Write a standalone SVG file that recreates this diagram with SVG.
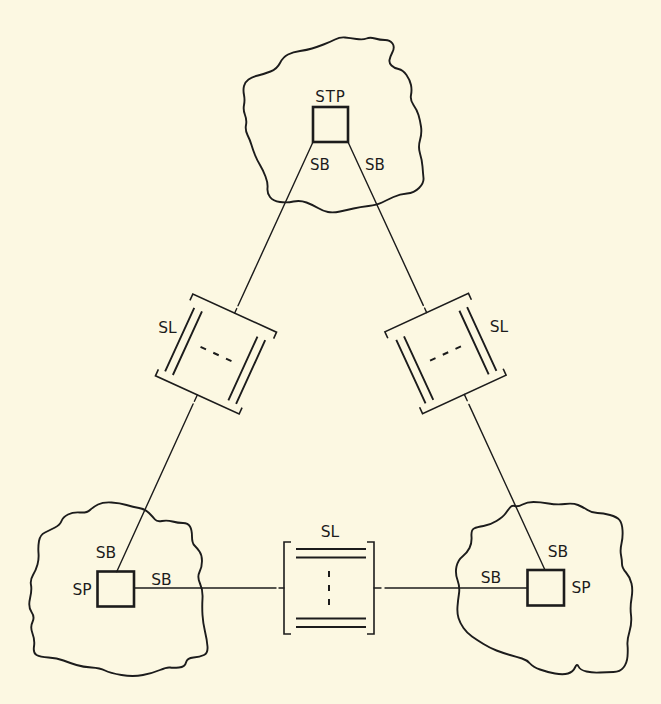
<svg xmlns="http://www.w3.org/2000/svg" xmlns:xlink="http://www.w3.org/1999/xlink" width="661" height="704" viewBox="0 0 661 704">
<defs>
<style>
.bg{fill:#fcf8e2}
.ln{stroke:#1c1c1c;stroke-width:1.4;fill:none;stroke-linecap:round}
.cloud{stroke:#1c1c1c;stroke-width:1.9;fill:none;stroke-linejoin:round}
.box{stroke:#1c1c1c;stroke-width:2.6;fill:none}
.br{stroke:#1c1c1c;stroke-width:1.6;fill:none;stroke-linejoin:miter}
.in{stroke:#1c1c1c;stroke-width:1.9;fill:none}
.dot{stroke:#1c1c1c;stroke-width:2;fill:none}
text{font-family:"DejaVu Sans","Liberation Sans",sans-serif;fill:#1c1c1c;text-anchor:middle}
.t1{font-size:15px}
.t2{font-size:15.5px}
</style>
<g id="bundle">
<path class="br" d="M-38,-46 H-45 V46 H-38"/>
<path class="br" d="M38,-46 H45 V46 H38"/>
<path class="in" d="M-33,-39 H37 M-33,-30.5 H37 M-33,30.5 H37 M-33,39 H37"/>
<path class="dot" d="M0,-17 V-11 M0,-3 V3 M0,11 V17"/>
<path class="ln" d="M-50,0 H-45 M45,0 H52"/>
</g>
</defs>
<rect class="bg" x="0" y="0" width="661" height="704"/>

<g id="connectors">
<path class="ln" d="M313,142 L238,305.8"/>
<path class="ln" d="M193.1,404 L116.7,571.7"/>
<path class="ln" d="M348,142 L423.3,305.4"/>
<path class="ln" d="M468.9,404.4 L545,570"/>
<path class="ln" d="M134,588 H276"/>
<path class="ln" d="M385,588 H527.5"/>
</g>

<g id="stp-network">
<path class="cloud" d="M244,86 Q245,82 248.5,79.5 Q252,77 258,75.5 Q264,74 270.5,71.5 Q277,69 280,63 Q283,57 288,54.5 Q293,52 300,51 Q307,50 312,48.5 Q317,47 323.5,44.5 Q330,42 335,39.5 Q340,37 345,37.5 Q350,38 356.5,39 Q363,40 366.5,38.5 Q370,37 375,38.5 Q380,40 385,40 Q390,40 392.5,43.5 Q395,47 392.5,52 Q390,57 389.5,60 Q389,63 391.5,65.5 Q394,68 398.5,69 Q403,70 406.5,75 Q410,80 411,85 Q412,90 411,95 Q410,100 413.5,105 Q417,110 418.5,115 Q420,120 421,126.5 Q422,133 420,140 Q418,147 420,153.5 Q422,160 422.5,166.5 Q423,173 423.5,178 Q424,183 419,188 Q414,193 407,193.5 Q400,194 393.5,197 Q387,200 382,202.5 Q377,205 368.5,206 Q360,207 353.5,208.5 Q347,210 340,211.5 Q333,213 328,212 Q323,211 318,208 Q313,205 306.5,202.5 Q300,200 293.5,201.5 Q287,203 280,202 Q273,201 270,197 Q267,193 267.5,188 Q268,183 265.5,176.5 Q263,170 260,165 Q257,160 255,155 Q253,150 251.5,145 Q250,140 247.5,135 Q245,130 246,125 Q247,120 245,115 Q243,110 244,105 Q245,100 244,95 Q243,90 244,86 Z"/>
</g>

<g id="stp">
<rect class="box" x="313" y="107" width="35" height="35"/>
<text class="t1" x="330.5" y="101.5" letter-spacing="1">STP</text>
<text class="t1" x="320" y="170">SB</text>
<text class="t1" x="375" y="170">SB</text>
</g>

<g id="sp-left-network">
<path class="cloud" d="M39,541 Q40,535 45,532.5 Q50,530 55,527.5 Q60,525 61.5,521 Q63,517 68,514.5 Q73,512 80,512.5 Q87,513 90,510 Q93,507 98,504.5 Q103,502 111.5,502.5 Q120,503 126.5,505 Q133,507 139,508 Q145,509 149,513 Q153,517 155,519.5 Q157,522 162,521 Q167,520 172.5,521.5 Q178,523 183,523 Q188,523 190,526.5 Q192,530 192,536.5 Q192,543 194.5,545.5 Q197,548 199.5,551.5 Q202,555 202,561 Q202,567 199.5,572 Q197,577 200,583.5 Q203,590 202.5,598.5 Q202,607 202.5,615 Q203,623 205,631.5 Q207,640 207.5,646.5 Q208,653 204,655 Q200,657 193.5,657.5 Q187,658 186,662.5 Q185,667 179,667.5 Q173,668 170,667.5 Q167,667 160,670 Q153,673 143,675 Q133,677 121.5,675 Q110,673 105,670.5 Q100,668 91.5,667.5 Q83,667 76.5,665 Q70,663 63.5,660.5 Q57,658 48.5,657.5 Q40,657 36.5,655 Q33,653 34,646.5 Q35,640 32.5,633.5 Q30,627 32.5,622 Q35,617 31.5,612 Q28,607 30,598.5 Q32,590 31,585 Q30,580 33,575 Q36,570 37.5,564.5 Q39,559 38.5,553 Q38,547 39,541 Z"/>
</g>

<g id="sp-left">
<rect class="box" x="97.5" y="571.5" width="36.5" height="35"/>
<text class="t2" x="106" y="558">SB</text>
<text class="t2" x="82" y="595">SP</text>
<text class="t2" x="161.5" y="585">SB</text>
</g>

<g id="sp-right-network">
<path class="cloud" d="M471.5,536.5 Q471,530 474,528.5 Q477,527 483.5,526 Q490,525 496.5,521 Q503,517 505.5,513.5 Q508,510 510,507.5 Q512,505 515,506 Q518,507 522.5,504.5 Q527,502 533.5,502 Q540,502 548.5,503.5 Q557,505 565,504 Q573,503 578,505 Q583,507 587.5,510 Q592,513 597.5,513 Q603,513 610,515 Q617,517 619.5,520 Q622,523 622.5,530 Q623,537 621.5,543.5 Q620,550 621,555 Q622,560 622,564 Q622,568 626,572.5 Q630,577 631.5,583.5 Q633,590 631.5,598.5 Q630,607 631,615 Q632,623 629.5,631.5 Q627,640 627.5,645 Q628,650 627.5,656.5 Q627,663 623.5,667.5 Q620,672 613.5,672 Q607,672 600,672.5 Q593,673 586.5,671.5 Q580,670 578.5,666.5 Q577,663 575,667.5 Q573,672 568,673.5 Q563,675 555,673.5 Q547,672 540,669.5 Q533,667 530,663.5 Q527,660 522,658.5 Q517,657 510,655 Q503,653 496.5,650.5 Q490,648 483.5,644 Q477,640 472,636.5 Q467,633 463.5,628 Q460,623 458.5,618 Q457,613 457.5,606.5 Q458,600 459,593.5 Q460,587 457.5,580 Q455,573 456.5,566.5 Q458,560 462.5,556.5 Q467,553 469.5,548 Q472,543 471.5,536.5 Z"/>
</g>

<g id="sp-right">
<rect class="box" x="527.5" y="570" width="36.5" height="35.5"/>
<text class="t2" x="558" y="557">SB</text>
<text class="t2" x="491" y="583">SB</text>
<text class="t2" x="581" y="593">SP</text>
</g>

<g id="sl-left">
<use xlink:href="#bundle" transform="translate(216,354) rotate(114.55)"/>
<text class="t2" x="167.5" y="333">SL</text>
</g>

<g id="sl-right">
<use xlink:href="#bundle" transform="translate(445.5,353.5) rotate(65.28)"/>
<text class="t2" x="499" y="332">SL</text>
</g>

<g id="sl-bottom">
<use xlink:href="#bundle" transform="translate(329,588)"/>
<text class="t2" x="330" y="537">SL</text>
</g>
</svg>
